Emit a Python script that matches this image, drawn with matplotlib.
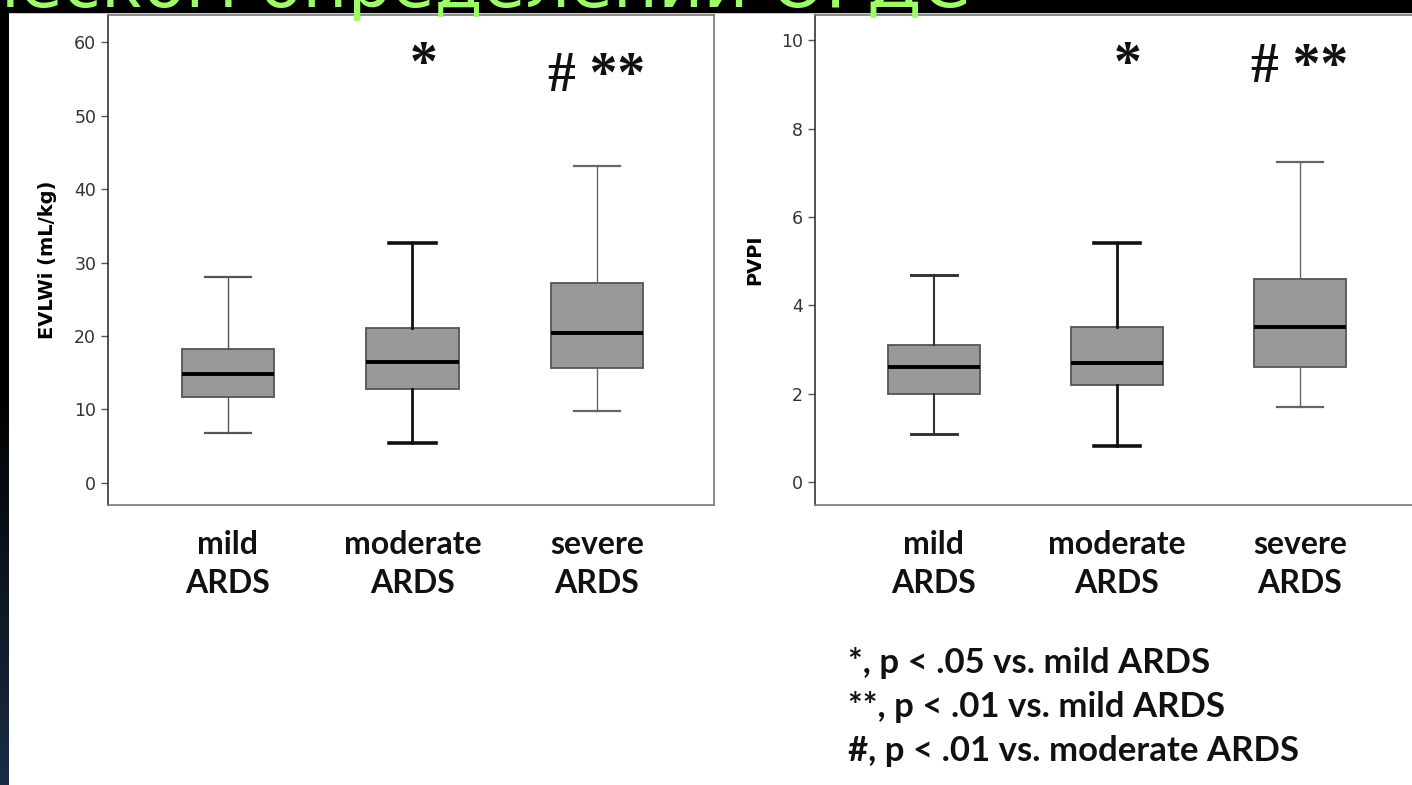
import numpy as np
import matplotlib
matplotlib.use("Agg")
import matplotlib.pyplot as plt
from matplotlib.patches import Rectangle
from matplotlib.colors import LinearSegmentedColormap

# data
groups = ["mild\nARDS", "moderate\nARDS", "severe\nARDS"]
positions = [1, 2, 3]

# EVLWi (mL/kg): whislo, q1, med, q3, whishi
evlwi_lo = [6.8, 5.4, 9.8]
evlwi_q1 = [11.7, 12.8, 15.6]
evlwi_med = [14.8, 16.5, 20.4]
evlwi_q3 = [18.2, 21.1, 27.2]
evlwi_hi = [28.0, 32.6, 43.1]

# PVPI
pvpi_lo = [1.09, 0.81, 1.7]
pvpi_q1 = [2.0, 2.2, 2.6]
pvpi_med = [2.6, 2.7, 3.5]
pvpi_q3 = [3.1, 3.5, 4.6]
pvpi_hi = [4.68, 5.4, 7.24]

evlwi_marks = ["", "*", "# **"]
pvpi_marks = ["", "*", "# **"]

legend_lines = ["*, p < .05 vs. mild ARDS",
                "**, p < .01 vs. mild ARDS",
                "#, p < .01 vs. moderate ARDS"]

title_text = "при клиническом определении ОРДС"


def make_stats(lo, q1, med, q3, hi):
    out = []
    for a, b, c, d, e in zip(lo, q1, med, q3, hi):
        out.append(dict(whislo=a, q1=b, med=c, q3=d, whishi=e, fliers=[]))
    return out


W, H = 1412, 785
fig = plt.figure(figsize=(W / 100, H / 100), dpi=100)

# dark strip on the left + black band on top (slide background)
strip = fig.add_axes([0, 0, 9 / W, 1])
grad = np.linspace(0, 1, 256).reshape(-1, 1)
cm = LinearSegmentedColormap.from_list("s", ["#000000", "#000000", "#1b2c44"])
strip.imshow(grad, aspect="auto", cmap=cm, extent=[0, 1, 1, 0])
strip.axis("off")
fig.patches.append(Rectangle((0, 1 - 12 / H), 1, 12 / H, transform=fig.transFigure,
                             color="black", zorder=1))

# per-box whisker styles
whisk_left = [("#555555", 1.0), ("#111111", 2.0), ("#666666", 1.0)]
whisk_right = [("#333333", 1.5), ("#111111", 2.0), ("#666666", 1.0)]


def draw_panel(ax, stats, styles, ylim, yticks, ylabel, marks, mark_y):
    for st, p, (c, lw) in zip(stats, positions, styles):
        ax.bxp([st], positions=[p], widths=0.5, capwidths=[0.25],
               showfliers=False, patch_artist=True,
               boxprops=dict(facecolor="#999999", edgecolor="#555555", linewidth=1.3),
               medianprops=dict(color="black", linewidth=2.8),
               whiskerprops=dict(color=c, linewidth=lw),
               capprops=dict(color=c, linewidth=lw + 0.6))
    ax.set_xlim(0.35, 3.634)
    ax.set_ylim(*ylim)
    ax.set_yticks(yticks)
    ax.set_xticks(positions)
    ax.set_xticklabels(groups, fontsize=23, fontweight="bold", family="Lato",
                       linespacing=1.4, color="#111111")
    ax.tick_params(axis="x", length=0, pad=18)
    ax.tick_params(axis="y", length=5, width=1, color="#555555",
                   labelsize=12.5, labelcolor="#333333")
    ax.set_ylabel(ylabel, fontsize=14, fontweight="bold", labelpad=12)
    for s in ax.spines.values():
        s.set_color("#777777")
        s.set_linewidth(1.2)
    ax.spines["left"].set_color("#333333")
    for p, m in zip(positions, marks):
        if m:
            ax.text(p + (0.06 if len(m) == 1 else 0.0), mark_y[p - 1], m,
                    family="Liberation Serif", fontsize=40, fontweight="bold",
                    ha="center", va="baseline", color="#111111")


ax1 = fig.add_axes([108 / W, 1 - 505 / H, 606 / W, 490 / H])
draw_panel(ax1, make_stats(evlwi_lo, evlwi_q1, evlwi_med, evlwi_q3, evlwi_hi),
           whisk_left, (-3, 63.7), np.arange(0, 61, 10), "EVLWi (mL/kg)",
           evlwi_marks, [0, 54.9, 53.3])

ax2 = fig.add_axes([815 / W, 1 - 505 / H, 601 / W, 490 / H])
draw_panel(ax2, make_stats(pvpi_lo, pvpi_q1, pvpi_med, pvpi_q3, pvpi_hi),
           whisk_right, (-0.52, 10.57), np.arange(0, 11, 2), "PVPI",
           pvpi_marks, [0, 9.1, 9.05])

# significance legend
for i, line in enumerate(legend_lines):
    fig.text(848 / W, 1 - (673 + 44 * i) / H, line, fontsize=25, fontweight="bold",
             family="Lato", color="#111111", va="baseline", ha="left")

# cut-off green slide title
fig.text(970 / W, 1 - 7 / H, title_text, fontsize=50, color="#9cff66",
         ha="right", va="baseline", family="DejaVu Sans", zorder=5)

fig.savefig("out.png", dpi=100)
